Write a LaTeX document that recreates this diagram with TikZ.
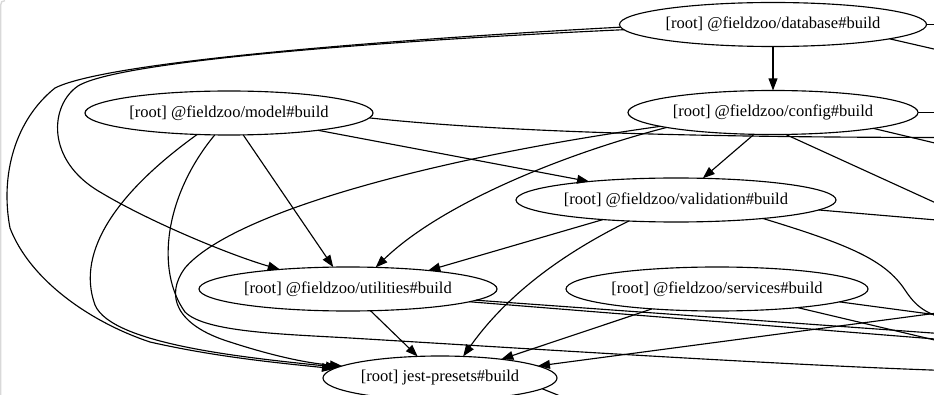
\documentclass[tikz,border=0pt]{standalone}
\usepackage{fontspec}
\setmainfont{Liberation Serif}
\usetikzlibrary{arrows.meta,shapes.geometric}
\begin{document}
\begin{tikzpicture}[x=0.75pt,y=-0.75pt,
  gnode/.style={ellipse,draw,line width=0.85pt,inner sep=0pt,outer sep=0pt,
    minimum height=33pt,font=\fontsize{12.4}{14}\selectfont},
  edge/.style={line width=0.85pt},
  arr/.style={edge,-{Triangle[length=9pt,width=6.6pt]}},
  frameline/.style={gray!30,line width=1pt}]
\useasboundingbox (0,0) rectangle (934,395);
\clip (0,0) rectangle (934,395);
\fill[white] (0,0) rectangle (934,395);
\draw[frameline] (0.7,400) -- (0.7,5) .. controls (0.7,2) and (2,0.7) .. (5,0.7);

% nodes
\node[gnode,minimum width=230.25pt] (D) at (773,24.5) {\makebox[0pt]{[root] @fieldzoo/database\#build}};
\node[gnode,minimum width=217.5pt] (C) at (773,112.5) {\makebox[0pt]{[root] @fieldzoo/config\#build}};
\node[gnode,minimum width=216pt] (M) at (229,113) {\makebox[0pt]{[root] @fieldzoo/model\#build}};
\node[gnode,minimum width=240pt] (V) at (676,200) {\makebox[0pt]{[root] @fieldzoo/validation\#build}};
\node[gnode,minimum width=223.5pt] (U) at (348,289) {\makebox[0pt]{[root] @fieldzoo/utilities\#build}};
\node[gnode,minimum width=226.5pt] (S) at (717,289) {\makebox[0pt]{[root] @fieldzoo/services\#build}};
\node[gnode,minimum width=175.5pt] (J) at (440,378) {\makebox[0pt]{[root] jest-presets\#build}};

% off-picture ends
\coordinate (oD1) at (960,24.5);
\coordinate (oD2) at (960,55);
\coordinate (oC1) at (960,112.5);
\coordinate (oC2) at (960,149);
\coordinate (oC3) at (960,214);
\coordinate (oM1) at (960,137.5);
\coordinate (oM2) at (960,371);
\coordinate (oV1) at (960,222);
\coordinate (oV2) at (960,322);
\coordinate (oU1) at (960,341);
\coordinate (oU2) at (960,335);
\coordinate (oS1) at (960,346);
\coordinate (oS2) at (960,318);
\coordinate (oIn) at (960,310);
\coordinate (oJ) at (600,412);

% database
\draw[arr] (D.south) -- (C.north);
\draw[arr] (D.181.5) .. controls (420,38) and (110,60) .. (55,88)
  .. controls (15,120) and (0,175) .. (10,228)
  .. controls (30,280) and (90,322) .. (150,342)
  .. controls (220,358) and (290,364) .. (J.175);
\draw[arr] (D.182.3) .. controls (400,40) and (120,60) .. (78,86)
  .. controls (50,105) and (45,160) .. (100,192)
  .. controls (150,222) and (230,255) .. (U.164.3);
\draw[edge] (D.east) -- (oD1);
\draw[edge] (D.-7.3) -- (oD2);

% config
\draw[arr] (C.229.1) -- (V.39.9);
\draw[arr] (C.188.9) .. controls (560,155) and (440,205) .. (U.38.5);
\draw[arr] (C.187) .. controls (420,160) and (230,215) .. (185,268)
  .. controls (165,295) and (175,325) .. (230,342)
  .. controls (270,355) and (305,363) .. (J.173);
\draw[edge] (C.east) -- (oC1);
\draw[edge] (C.-9.6) -- (oC2);
\draw[edge] (C.-60) -- (oC3);

% model
\draw[arr] (M.-11.2) -- (V.168.75);
\draw[edge] (M.-2.6) .. controls (500,132) and (700,137.5) .. (oM1);
\draw[arr] (M.-57.4) -- (U.124.4);
\draw[edge] (M.237.4) .. controls (165,195) and (155,270) .. (185,312)
  .. controls (205,332) and (280,334) .. (350,338)
  .. controls (550,350) and (800,366) .. (oM2);
\draw[arr] (M.214.7) .. controls (120,190) and (75,250) .. (95,305)
  .. controls (112,345) and (250,358) .. (J.174);

% validation
\draw[arr] (V.195) -- (U.13.3);
\draw[arr] (V.204.5) .. controls (570,250) and (510,290) .. (J.43.2);
\draw[edge] (V.-4.1) -- (oV1);
\draw[edge] (V.-12) .. controls (850,245) and (885,260) .. (905,290)
  .. controls (915,305) and (925,316) .. (oV2);

% utilities
\draw[arr] (U.-44.7) -- (J.136.8);
\draw[edge] (U.-6.9) -- (oU1);
\draw[edge] (U.-5.9) -- (oU2);

% services
\draw[arr] (S.197.3) -- (J.17.5);
\draw[edge] (S.-13.1) -- (oS1);
\draw[edge] (S.-6.9) -- (oS2);

% others
\draw[arr] (oIn) -- (J.7.2);
\draw[edge] (J.-6.5) -- (oJ);
\end{tikzpicture}
\end{document}
